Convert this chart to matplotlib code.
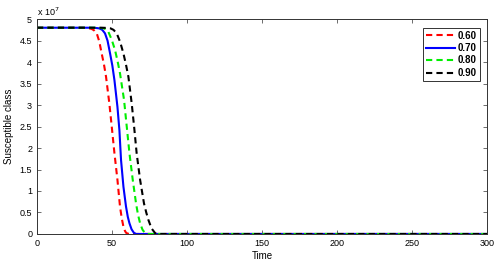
import numpy as np
import matplotlib
matplotlib.use('Agg')
import matplotlib.pyplot as plt

plt.rcParams['font.family'] = ['Liberation Sans', 'DejaVu Sans']

# valores (S em unidades de 1e7)
t_060 = [0, 30, 33, 35, 36.5, 38, 39.8, 41.5, 43.1, 44.6, 46.0, 48.2, 49.8, 51.6, 53.6, 55.3, 56.5, 57.6, 58.5, 59.3, 60.3, 61.5, 70, 300]
s_060 = [4.8, 4.8, 4.795, 4.785, 4.77, 4.74, 4.67, 4.48, 4.2, 3.95, 3.66, 3.04, 2.5, 1.88, 1.26, 0.64, 0.36, 0.17, 0.08, 0.03, 0.01, 0.0, 0.0, 0.0]

t_070 = [0, 35, 39, 41.5, 43.5, 45.3, 47.0, 48.7, 50.2, 51.6, 53.6, 54.9, 56.0, 57.6, 59.3, 60.5, 61.6, 63, 64.5, 66, 300]
s_070 = [4.8, 4.8, 4.795, 4.785, 4.75, 4.67, 4.5, 4.2, 3.92, 3.58, 2.96, 2.42, 1.72, 1.1, 0.64, 0.4, 0.25, 0.11, 0.03, 0.0, 0.0]

t_080 = [0, 38, 42, 44.5, 46.2, 47.6, 49.8, 52.0, 53.7, 55.3, 58.0, 59.8, 61.6, 63.8, 66.0, 67.3, 68.7, 70.3, 72.0, 74, 300]
s_080 = [4.8, 4.8, 4.795, 4.785, 4.76, 4.7, 4.52, 4.28, 4.02, 3.74, 3.12, 2.5, 1.88, 1.26, 0.71, 0.45, 0.25, 0.1, 0.02, 0.0, 0.0]

t_090 = [0, 43, 46.5, 49, 51, 53.1, 55.4, 57.6, 59.3, 60.9, 63.1, 64.7, 66.4, 68.7, 71.3, 72.8, 74.2, 76.3, 78.7, 81, 300]
s_090 = [4.8, 4.8, 4.795, 4.785, 4.75, 4.67, 4.47, 4.2, 3.94, 3.66, 3.04, 2.5, 1.88, 1.26, 0.71, 0.5, 0.33, 0.13, 0.02, 0.0, 0.0]

rotulos = ['0.60', '0.70', '0.80', '0.90']
escala = 1e7

fig = plt.figure(figsize=(4.98, 2.62), dpi=100)
ax = fig.add_axes([0.0743, 0.107, 0.904, 0.82])

ax.plot(t_060, np.array(s_060) * escala, '--', color='red', lw=1.5, dashes=(3, 2), label=rotulos[0])
ax.plot(t_070, np.array(s_070) * escala, '-', color='blue', lw=1.5, label=rotulos[1])
ax.plot(t_080, np.array(s_080) * escala, '--', color='#00ee00', lw=1.5, dashes=(3, 2), label=rotulos[2])
ax.plot(t_090, np.array(s_090) * escala, '--', color='black', lw=1.5, dashes=(3, 2), label=rotulos[3])

ax.set_xlim(0, 300)
ax.set_ylim(0, 5e7)
ax.set_xticks(np.arange(0, 301, 50))
yt = np.arange(0, 5.01, 0.5)
ax.set_yticks(yt * escala)
ax.set_yticklabels(['%g' % v for v in yt])
ax.tick_params(direction='in', top=True, right=True, labelsize=6.5, length=3, width=0.6, color='#555555')
for s in ax.spines.values():
    s.set_linewidth(0.7)
    s.set_color('#333333')

ax.text(0.0, 1.005, r'x 10$^{7}$', transform=ax.transAxes, fontsize=6.5, va='bottom', ha='left')
ax.set_xlabel('Time', fontsize=7, labelpad=2)
ax.set_ylabel('Susceptible class', fontsize=7, labelpad=4)

leg = ax.legend(loc='upper right', bbox_to_anchor=(0.983, 0.96), fontsize=7, handlelength=3.0,
                handletextpad=0.3, borderpad=0.3, labelspacing=0.25, frameon=True, fancybox=False,
                borderaxespad=0.0)
leg.get_frame().set_edgecolor('black')
leg.get_frame().set_linewidth(0.7)
for txt in leg.get_texts():
    txt.set_fontweight('bold')

fig.savefig('out.png', dpi=100)
